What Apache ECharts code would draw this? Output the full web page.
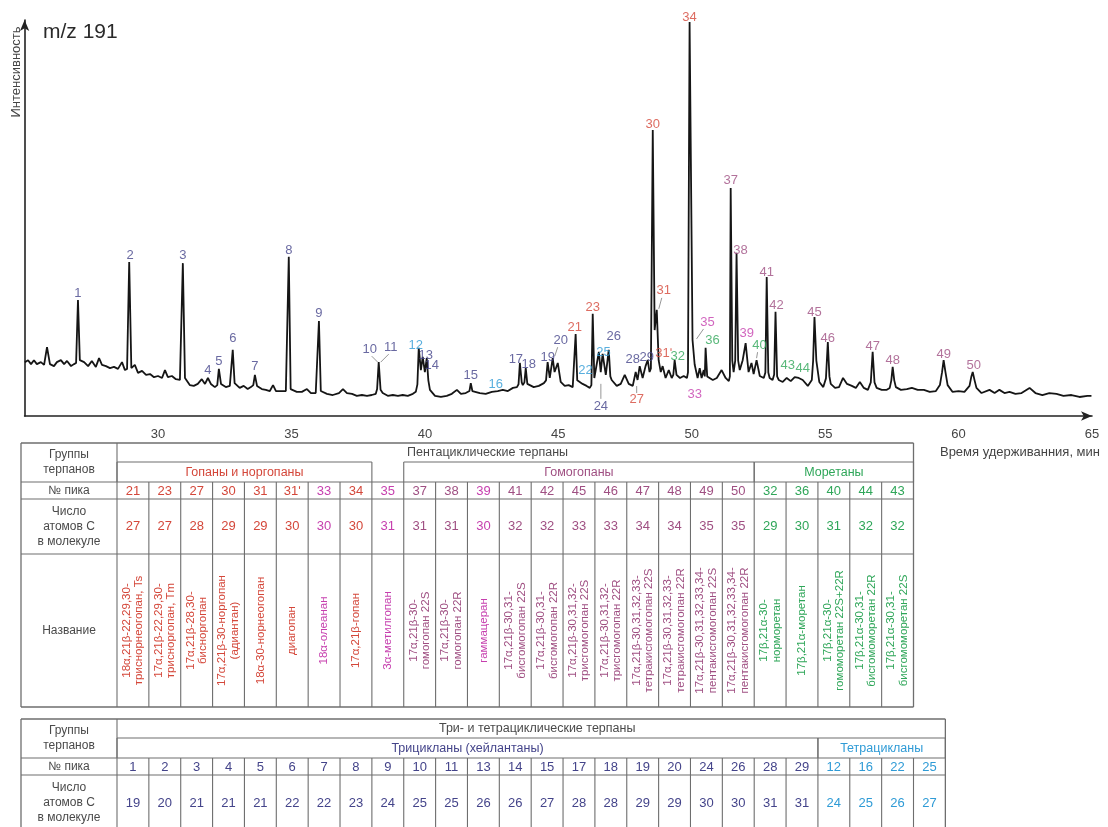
<!DOCTYPE html>
<html>
<head>
<meta charset="utf-8">
<script src="https://cdn.jsdelivr.net/npm/echarts@6/dist/echarts.min.js"></script>
<style>
  html, body { margin: 0; padding: 0; background: #ffffff; }
  #chart { width: 1108px; height: 827px; }
</style>
</head>
<body>
<div id="chart"></div>
<script>
// m/z 191 chromatogram: [retention time, min ; relative intensity]
const trace = [
  [25.01,13.6],[25.13,14.1],[25.24,13.1],[25.35,14.1],[25.46,13.1],[25.61,13.6],[25.73,12.9],[25.84,17.4],
  [25.95,13.1],[26.10,12.6],[26.21,13.6],[26.36,14.1],[26.48,13.1],[26.59,13.9],[26.74,12.6],[26.85,13.1],
  [26.93,13.4],[27.00,29.3],[27.07,14.1],[27.23,13.6],[27.38,12.6],[27.52,13.9],[27.67,12.4],[27.79,14.6],
  [27.90,12.9],[28.05,12.6],[28.20,12.1],[28.35,12.4],[28.50,11.9],[28.65,13.6],[28.76,11.6],[28.84,11.9],
  [28.92,38.9],[29.00,12.1],[29.13,12.9],[29.25,10.9],[29.40,11.4],[29.55,10.4],[29.70,10.6],[29.85,9.8],
  [30.00,10.1],[30.15,9.6],[30.26,11.6],[30.37,9.8],[30.52,10.1],[30.67,9.3],[30.82,9.1],[30.86,9.3],
  [30.93,38.6],[31.01,9.6],[31.19,7.8],[31.34,7.6],[31.49,8.1],[31.64,9.3],[31.76,8.1],[31.87,9.6],
  [31.98,8.1],[32.13,7.3],[32.22,7.8],[32.28,11.9],[32.36,8.1],[32.54,7.3],[32.69,7.6],[32.74,8.1],
  [32.80,16.7],[32.87,8.3],[33.06,7.1],[33.21,7.6],[33.36,6.8],[33.48,7.3],[33.57,7.8],[33.63,10.4],
  [33.71,7.6],[33.89,6.8],[34.04,6.6],[34.19,6.3],[34.31,7.8],[34.42,6.3],[34.61,6.3],[34.79,6.3],
  [34.84,6.6],[34.90,40.2],[34.97,6.8],[35.20,6.1],[35.39,6.1],[35.58,6.8],[35.73,5.8],[35.91,5.8],
  [35.97,6.1],[36.03,24.0],[36.10,6.3],[36.33,5.6],[36.55,5.3],[36.78,5.8],[36.93,6.8],[37.08,5.8],
  [37.27,5.6],[37.45,5.1],[37.64,5.3],[37.83,5.1],[38.01,5.3],[38.16,5.6],[38.21,6.8],[38.27,13.6],
  [38.34,6.6],[38.42,5.8],[38.61,5.1],[38.80,5.3],[38.99,5.1],[39.17,5.3],[39.36,5.1],[39.55,5.6],
  [39.66,6.1],[39.72,8.0],[39.77,17.2],[39.85,11.6],[39.92,14.9],[40.00,11.1],[40.07,14.6],[40.13,9.0],
  [40.19,6.6],[40.38,5.1],[40.60,4.8],[40.82,5.1],[41.01,5.6],[41.20,6.6],[41.35,5.6],[41.53,5.8],
  [41.67,6.3],[41.72,8.3],[41.78,6.3],[42.06,5.8],[42.28,5.6],[42.51,6.1],[42.73,6.3],[42.92,6.6],
  [43.11,6.3],[43.30,7.1],[43.45,7.3],[43.51,8.0],[43.56,13.4],[43.63,8.5],[43.67,7.8],[43.73,8.5],
  [43.78,12.1],[43.84,8.1],[43.90,7.6],[44.08,7.3],[44.27,7.6],[44.46,8.3],[44.54,9.0],[44.60,13.6],
  [44.68,9.6],[44.79,14.6],[44.86,11.1],[44.98,13.4],[45.09,8.6],[45.24,7.6],[45.39,7.8],[45.54,7.3],
  [45.60,7.8],[45.65,20.7],[45.71,9.0],[45.76,9.3],[45.91,8.1],[46.06,7.6],[46.18,7.1],[46.24,7.8],
  [46.29,25.8],[46.35,9.6],[46.40,9.6],[46.52,16.2],[46.59,11.1],[46.66,15.7],[46.78,10.4],[46.89,16.7],
  [46.95,10.0],[47.00,9.1],[47.19,7.6],[47.34,8.1],[47.49,10.4],[47.64,8.1],[47.79,7.6],[47.90,11.1],
  [47.97,9.1],[48.05,12.6],[48.16,9.6],[48.27,12.6],[48.35,14.1],[48.42,11.1],[48.47,12.0],[48.54,72.2],
  [48.61,21.7],[48.69,26.8],[48.76,14.1],[48.84,11.1],[48.91,12.6],[49.02,9.6],[49.14,11.6],[49.25,9.6],
  [49.31,10.4],[49.36,14.1],[49.43,10.4],[49.56,9.6],[49.70,10.1],[49.82,9.6],[49.86,11.0],[49.92,99.5],
  [50.03,19.2],[50.11,13.0],[50.22,9.6],[50.30,12.1],[50.37,9.6],[50.45,11.6],[50.49,10.0],[50.52,17.2],
  [50.58,10.0],[50.64,9.6],[50.79,9.1],[50.94,9.6],[51.12,11.6],[51.27,9.6],[51.39,8.8],[51.43,10.0],
  [51.46,57.6],[51.52,14.0],[51.57,11.1],[51.63,14.0],[51.68,41.2],[51.74,14.0],[51.80,11.6],[51.91,14.1],
  [52.02,18.4],[52.13,11.1],[52.24,13.4],[52.32,10.6],[52.43,14.1],[52.55,10.1],[52.70,9.6],[52.76,11.0],
  [52.81,35.1],[52.87,11.0],[52.92,9.6],[53.03,9.1],[53.09,10.5],[53.14,26.3],[53.20,10.0],[53.26,9.1],
  [53.41,8.6],[53.56,9.6],[53.71,8.8],[53.86,9.8],[54.01,9.6],[54.16,9.1],[54.35,7.6],[54.50,9.1],
  [54.55,14.0],[54.60,25.0],[54.67,14.0],[54.78,8.6],[54.93,7.3],[55.03,9.5],[55.10,18.7],[55.16,10.0],
  [55.21,8.1],[55.37,7.1],[55.52,7.3],[55.67,9.6],[55.82,8.1],[56.00,7.6],[56.15,7.1],[56.30,8.6],
  [56.45,7.1],[56.60,6.6],[56.71,8.5],[56.78,16.2],[56.85,8.5],[56.93,7.1],[57.12,6.6],[57.31,6.6],
  [57.42,7.1],[57.48,9.0],[57.53,12.4],[57.59,9.0],[57.65,7.3],[57.84,6.6],[58.06,6.8],[58.25,7.1],
  [58.47,6.6],[58.70,6.6],[58.92,6.1],[59.15,6.3],[59.30,7.8],[59.38,11.0],[59.44,14.1],[59.51,11.0],
  [59.59,7.8],[59.77,6.1],[60.00,6.3],[60.22,6.1],[60.41,7.6],[60.48,10.0],[60.53,11.1],[60.60,9.0],
  [60.67,7.1],[60.86,5.8],[61.16,6.6],[61.35,5.8],[61.53,6.6],[61.72,5.8],[61.91,6.1],[62.13,5.6],
  [62.36,5.8],[62.66,7.1],[62.88,5.8],[63.14,5.3],[63.40,5.8],[63.67,5.6],[63.93,5.1],[64.23,5.3],
  [64.53,4.8],[64.83,5.1],[64.98,5.1]
];

// Numbered peaks: id, apex retention time, apex intensity, compound group
const peakIds = ['1','2','3','4','5','6','7','8','9','10','11','12','13','14','15','16','17','18','19','20',
  '21','22','23','24','25','26','27','28','29','30','31','31ʹ','32','33','34','35','36','37','38','39','40',
  '41','42','43','44','45','46','47','48','49','50'];
const peakTimes = [27.00,28.92,30.93,31.87,32.28,32.80,33.63,34.90,36.03,38.27,38.27,39.77,39.92,40.07,41.72,42.73,
  43.56,43.78,44.60,44.79,45.65,45.91,46.29,46.52,46.66,46.89,47.90,48.05,48.35,48.54,48.69,48.91,49.36,50.30,
  49.92,50.03,50.52,51.46,51.68,52.02,52.43,52.81,53.14,53.56,54.01,54.60,55.10,56.78,57.53,59.44,60.53];
const peakApex = [29.3,38.9,38.6,9.6,11.9,16.7,10.4,40.2,24.0,13.6,13.6,17.2,14.9,14.6,8.3,6.3,
  13.4,12.1,13.6,14.6,20.7,8.1,25.8,16.2,15.7,16.7,11.1,12.6,14.1,72.2,26.8,12.6,14.1,12.1,
  99.5,19.2,17.2,57.6,41.2,18.4,14.1,35.1,26.3,9.6,9.6,25.0,18.7,16.2,12.4,14.1,11.1];
const peakGroups = ['tri','tri','tri','tri','tri','tri','tri','tri','tri','tri','tri','tetra','tri','tri','tri','tetra',
  'tri','tri','tri','tri','hop','tetra','hop','tri','tetra','tri','hop','tri','tri','hop','hop','hop','mor','mag',
  'hop','mag','mor','homo','homo','mag','mor','homo','homo','mor','mor','homo','homo','homo','homo','homo','homo'];

// Axis tick labels
const timeTicks = [30, 35, 40, 45, 50, 55, 60, 65];

// Table 1: pentacyclic terpanes
const pentaPeaks = ['21','23','27','30','31','31ʹ','33','34','35','37','38','39','41','42','45','46','47','48','49','50','32','36','40','44','43'];
const pentaCarbon = [27,27,28,29,29,30,30,30,31,31,31,30,32,32,33,33,34,34,35,35,29,30,31,32,32];
const pentaGroups = ['hop','hop','hop','hop','hop','hop','mag','hop','mag','homo','homo','mag','homo','homo','homo','homo',
  'homo','homo','homo','homo','mor','mor','mor','mor','mor'];
const pentaNames = [
  '18α,21β-22,29,30-\nтриснорнеогопан, Ts',
  '17α,21β-22,29,30-\nтрисноргопан, Tm',
  '17α,21β-28,30-\nбисноргопан',
  '17α,21β-30-норгопан\n(адиантан)',
  '18α-30-норнеогопан',
  'диагопан',
  '18α-олеанан',
  '17α,21β-гопан',
  '3α-метилгопан',
  '17α,21β-30-\nгомогопан 22S',
  '17α,21β-30-\nгомогопан 22R',
  'гаммацеран',
  '17α,21β-30,31-\nбисгомогопан 22S',
  '17α,21β-30,31-\nбисгомогопан 22R',
  '17α,21β-30,31,32-\nтрисгомогопан 22S',
  '17α,21β-30,31,32-\nтрисгомогопан 22R',
  '17α,21β-30,31,32,33-\nтетракисгомогопан 22S',
  '17α,21β-30,31,32,33-\nтетракисгомогопан 22R',
  '17α,21β-30,31,32,33,34-\nпентакисгомогопан 22S',
  '17α,21β-30,31,32,33,34-\nпентакисгомогопан 22R',
  '17β,21α-30-\nнорморетан',
  '17β,21α-моретан',
  '17β,21α-30-\nгомоморетан 22S+22R',
  '17β,21α-30,31-\nбисгомоморетан 22R',
  '17β,21α-30,31-\nбисгомоморетан 22S'
];
const pentaSubgroups = [
  { name: 'Гопаны и норгопаны', from: 0, to: 7, group: 'hop' },
  { name: 'Гомогопаны', from: 9, to: 19, group: 'homo' },
  { name: 'Моретаны', from: 20, to: 24, group: 'mor' }
];

// Table 2: tri- and tetracyclic terpanes
const cyclicPeaks = ['1','2','3','4','5','6','7','8','9','10','11','13','14','15','17','18','19','20','24','26','28','29','12','16','22','25'];
const cyclicCarbon = [19,20,21,21,21,22,22,23,24,25,25,26,26,27,28,28,29,29,30,30,31,31,24,25,26,27];
const cyclicGroups = ['tri','tri','tri','tri','tri','tri','tri','tri','tri','tri','tri','tri','tri','tri','tri','tri',
  'tri','tri','tri','tri','tri','tri','tetra','tetra','tetra','tetra'];
const cyclicSubgroups = [
  { name: 'Трицикланы (хейлантаны)', from: 0, to: 21, group: 'tri' },
  { name: 'Тетрацикланы', from: 22, to: 25, group: 'tetra' }
];

// ---- styling ----
const FONT = "'Liberation Sans', Arial, sans-serif";
const groupColor = {
  tri: '#44448a', tetra: '#2f9bd6', hop: '#d4473a', mag: '#c63fae', homo: '#9f4f82', mor: '#2fa659'
};
const INK = '#4a4a4a';
const RULE = '#6e6e6e';

// label placement next to each apex, in pixels [dx, dy]
const labelOffset = {
  '1':[0,-7],'2':[1,-7],'3':[0,-8],'4':[0,-8],'5':[0,-7],'6':[0,-11],'7':[0,-8],'8':[0,-6],'9':[0,-8],
  '10':[-9,-13],'11':[12,-15],'12':[-3,-2],'13':[3,-2],'14':[5,7],'15':[0,-8],'16':[-2,-7],'17':[-4,-4],
  '18':[3,-4],'19':[0,-5],'20':[8,-18],'21':[-1,-7],'22':[3,-14],'23':[0,-6],'24':[2,55],'25':[1,-1],
  '26':[5,-13],'27':[1,27],'28':[-7,-7],'29':[-1,-3],'30':[0,-6],'31':[7,-19],'31ʹ':[1,-13],'32':[3,-4],
  '33':[-5,26],'34':[0,-5],'35':[15,-18],'36':[7,-7],'37':[0,-7],'38':[4,-2],'39':[1,-10],'40':[3,-15],
  '41':[0,-5],'42':[1,-6],'43':[1,-13],'44':[4,-10],'45':[0,-5],'46':[0,-4],'47':[0,-5],'48':[0,-6],
  '49':[0,-6],'50':[1,-7]
};
// thin leader strokes from a label towards its peak, offsets from the apex in pixels
const leaders = {
  '10': [[-7,-6],[-1,0]], '11': [[10,-8],[2,0]], '20': [[5,-11],[2,-2]], '24': [[2,47],[2,32]],
  '27': [[1,21],[1,14]], '31': [[5,-12],[2,-1]], '35': [[11,-11],[4,-1]], '40': [[1,-8],[0,-2]]
};

const chart = echarts.init(document.getElementById('chart'), null, { renderer: 'canvas' });

const labelData = peakIds.map((id, i) => ({
  name: id,
  value: [peakTimes[i], peakApex[i]],
  label: { offset: labelOffset[id] || [0, -7], color: groupColor[peakGroups[i]] }
}));

chart.setOption({
  animation: false,
  backgroundColor: '#ffffff',
  grid: { left: 24.6, right: 16, top: 20, bottom: 411, containLabel: false },
  xAxis: {
    type: 'value', min: 25, max: 65, interval: 5,
    axisLine: { show: true, symbol: ['none', 'arrow'], symbolSize: [7, 11], lineStyle: { color: '#222', width: 1.6 } },
    axisTick: { show: false },
    splitLine: { show: false },
    axisLabel: {
      showMinLabel: false, margin: 12, color: '#444', fontSize: 13, fontFamily: FONT,
      formatter: v => (timeTicks.indexOf(v) >= 0 ? String(v) : '')
    },
    name: 'Время удерживанния, мин',
    nameLocation: 'end', nameGap: 8,
    nameTextStyle: { color: '#444', fontSize: 13, fontFamily: FONT, align: 'right', verticalAlign: 'top', padding: [30, 0, 0, 0] }
  },
  yAxis: {
    type: 'value', min: 0, max: 100,
    axisLine: { show: true, symbol: ['none', 'arrow'], symbolSize: [7, 11], lineStyle: { color: '#222', width: 1.6 } },
    axisTick: { show: false }, axisLabel: { show: false }, splitLine: { show: false }
  },
  series: [
    {
      type: 'line', data: trace, symbol: 'none', silent: true,
      lineStyle: { color: '#151515', width: 1.8 }
    },
    {
      type: 'scatter', data: labelData, symbolSize: 0, silent: true, z: 5,
      label: { show: true, position: 'inside', formatter: '{b}', fontSize: 13, fontFamily: FONT }
    }
  ]
});

// ---- static text, leader strokes and the two tables ----
const G = [];
function rule(x1, y1, x2, y2, w) {
  G.push({ type: 'line', silent: true, shape: { x1, y1, x2, y2 }, style: { stroke: RULE, lineWidth: w || 1.1 } });
}
function txt(x, y, t, o) {
  o = o || {};
  G.push({
    type: 'text', silent: true, x, y, rotation: o.rot || 0,
    style: {
      text: t, fill: o.color || INK, fontSize: o.size || 12, fontFamily: FONT,
      align: o.align || 'center', verticalAlign: 'middle', lineHeight: o.lh || 14
    }
  });
}

txt(43, 32, 'm/z 191', { size: 21, color: '#2a2a2a', align: 'left' });
txt(16.5, 72, 'Интенсивность', { size: 13, color: '#444', rot: Math.PI / 2, align: 'center' });

peakIds.forEach((id, i) => {
  const l = leaders[id];
  if (!l) return;
  const p = chart.convertToPixel({ seriesIndex: 1 }, [peakTimes[i], peakApex[i]]);
  G.push({
    type: 'line', silent: true,
    shape: { x1: p[0] + l[0][0], y1: p[1] + l[0][1], x2: p[0] + l[1][0], y2: p[1] + l[1][1] },
    style: { stroke: '#8a8a8a', lineWidth: 0.9 }
  });
});

const LEFT = 21, HEAD = 117, COLW = 31.86;
const colX = i => HEAD + i * COLW;

// Table 1
(function () {
  const n = pentaPeaks.length;
  const R = [443, 462, 482, 499, 554, 707];
  const right = colX(n);
  rule(LEFT, R[0], right, R[0], 1.3); rule(LEFT, R[5], right, R[5], 1.3);
  rule(LEFT, R[0], LEFT, R[5], 1.3); rule(right, R[0], right, R[5], 1.3);
  rule(HEAD, R[0], HEAD, R[5]);
  [R[2], R[3], R[4]].forEach(y => rule(LEFT, y, right, y));
  for (let i = 1; i < n; i++) rule(colX(i), R[2], colX(i), R[5]);
  pentaSubgroups.forEach(s => {
    const x1 = colX(s.from), x2 = colX(s.to + 1);
    rule(x1, R[1], x2, R[1]);
    rule(x1, R[1], x1, R[2]); rule(x2, R[1], x2, R[2]);
    txt((x1 + x2) / 2, (R[1] + R[2]) / 2 + 0.5, s.name, { color: groupColor[s.group], size: 12.5 });
  });
  txt(407, (R[0] + R[1]) / 2 + 0.5, 'Пентациклические терпаны', { size: 12.5, align: 'left' });
  txt((LEFT + HEAD) / 2, (R[0] + R[2]) / 2, 'Группы\nтерпанов', { size: 12, lh: 15 });
  txt((LEFT + HEAD) / 2, (R[2] + R[3]) / 2, '№ пика', { size: 12 });
  txt((LEFT + HEAD) / 2, (R[3] + R[4]) / 2, 'Число\nатомов С\nв молекуле', { size: 12, lh: 15 });
  txt((LEFT + HEAD) / 2, (R[4] + R[5]) / 2, 'Название', { size: 12 });
  for (let i = 0; i < n; i++) {
    const cx = colX(i) + COLW / 2, c = groupColor[pentaGroups[i]];
    txt(cx, (R[2] + R[3]) / 2 + 0.5, pentaPeaks[i], { color: c, size: 13 });
    txt(cx, (R[3] + R[4]) / 2, String(pentaCarbon[i]), { color: c, size: 13 });
    txt(cx, (R[4] + R[5]) / 2, pentaNames[i], { color: c, size: 11.5, lh: 12.5, rot: Math.PI / 2 });
  }
})();

// Table 2
(function () {
  const n = cyclicPeaks.length;
  const R = [719, 738, 758, 775, 840];
  const right = colX(n);
  rule(LEFT, R[0], right, R[0], 1.3);
  rule(LEFT, R[0], LEFT, R[4], 1.3); rule(right, R[0], right, R[4], 1.3);
  rule(HEAD, R[0], HEAD, R[4]);
  [R[2], R[3]].forEach(y => rule(LEFT, y, right, y));
  for (let i = 1; i < n; i++) rule(colX(i), R[2], colX(i), R[4]);
  cyclicSubgroups.forEach(s => {
    const x1 = colX(s.from), x2 = colX(s.to + 1);
    rule(x1, R[1], x2, R[1]);
    rule(x1, R[1], x1, R[2]); rule(x2, R[1], x2, R[2]);
    txt((x1 + x2) / 2, (R[1] + R[2]) / 2 + 0.5, s.name, { color: groupColor[s.group], size: 12.5 });
  });
  txt((HEAD + right) / 2 + 6, (R[0] + R[1]) / 2 + 0.5, 'Три- и тетрациклические терпаны', { size: 12.5 });
  txt((LEFT + HEAD) / 2, (R[0] + R[2]) / 2, 'Группы\nтерпанов', { size: 12, lh: 15 });
  txt((LEFT + HEAD) / 2, (R[2] + R[3]) / 2, '№ пика', { size: 12 });
  txt((LEFT + HEAD) / 2, 803, 'Число\nатомов С\nв молекуле', { size: 12, lh: 15 });
  for (let i = 0; i < n; i++) {
    const cx = colX(i) + COLW / 2, c = groupColor[cyclicGroups[i]];
    txt(cx, (R[2] + R[3]) / 2 + 0.5, cyclicPeaks[i], { color: c, size: 13 });
    txt(cx, 803, String(cyclicCarbon[i]), { color: c, size: 13 });
  }
})();

chart.setOption({ graphic: { elements: G } });
</script>
</body>
</html>
